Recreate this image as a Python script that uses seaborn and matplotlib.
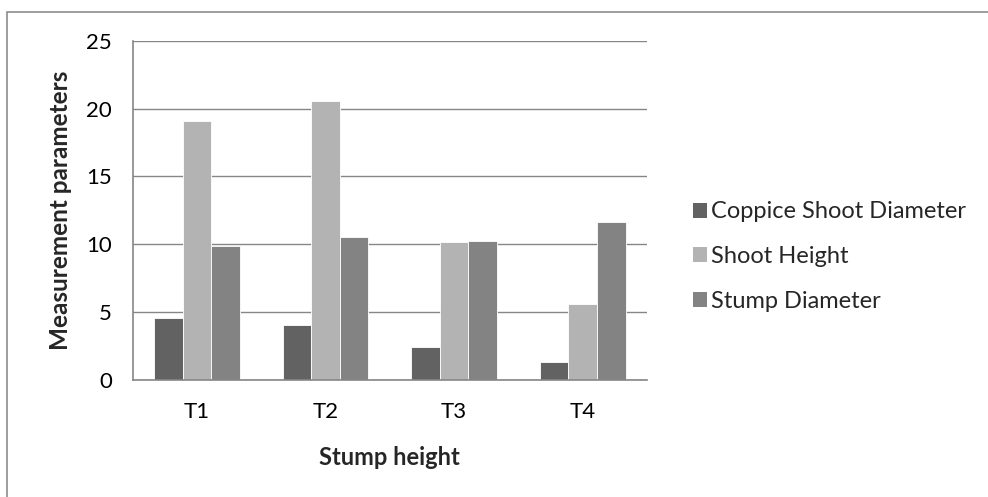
import matplotlib
matplotlib.use("Agg")
import matplotlib.pyplot as plt
import seaborn as sns
import pandas as pd
from matplotlib.patches import Rectangle, Patch

categories = ["T1", "T2", "T3", "T4"]
series_names = ["Coppice Shoot Diameter", "Shoot Height", "Stump Diameter"]
coppice_shoot_diameter = [4.57, 4.05, 2.46, 1.35]
shoot_height = [19.07, 20.54, 10.17, 5.58]
stump_diameter = [9.85, 10.57, 10.27, 11.65]
colors = ["#626262", "#b3b3b3", "#838383"]
yticks = [0, 5, 10, 15, 20, 25]

rows = []
for name, vals in zip(series_names, [coppice_shoot_diameter, shoot_height, stump_diameter]):
    for c, v in zip(categories, vals):
        rows.append({"Stump height": c, "Series": name, "Value": v})
df = pd.DataFrame(rows)

sns.set_theme(style="white")
plt.rcParams["font.family"] = ["Lato", "DejaVu Sans"]

fig = plt.figure(figsize=(9.88, 4.97), dpi=100)
ax = fig.add_axes([0.1343, 0.2354, 0.5206, 0.6827])

sns.barplot(data=df, x="Stump height", y="Value", hue="Series", palette=colors,
            width=0.667, ax=ax, legend=False, saturation=1, edgecolor="white", linewidth=0.6)

grid_c = "#868686"
ax.set_ylim(0, 25)
ax.set_xlim(-0.5, 3.5)
ax.set_yticks(yticks)
ax.yaxis.grid(True, color=grid_c, linewidth=1.0)
ax.set_axisbelow(True)
for s in ["top", "right"]:
    ax.spines[s].set_visible(False)
for s in ["left", "bottom"]:
    ax.spines[s].set_color(grid_c)
    ax.spines[s].set_linewidth(1.2)

ax.set_xticks([0, 1, 2, 3])
ax.set_xticklabels(categories)
ax.set_xticks([-0.5, 0.5, 1.5, 2.5, 3.5], minor=True)
ax.tick_params(axis="x", which="major", length=0, pad=16, labelsize=16, colors="black")
ax.tick_params(axis="x", which="minor", length=6, width=1.2, color=grid_c, direction="out")
ax.tick_params(axis="y", which="major", length=6, width=1.2, color=grid_c, direction="out",
               pad=9, labelsize=16, labelcolor="black")
ax.tick_params(axis="x", labelcolor="black")

ax.set_xlabel("Stump height", fontsize=17, fontweight="bold", labelpad=17)
ax.set_ylabel("Measurement parameters", fontsize=17.5, fontweight="bold", labelpad=10)

handles = [Patch(facecolor=c, edgecolor="none") for c in colors]
leg = fig.legend(handles, series_names, loc="center left", bbox_to_anchor=(0.689, 0.484),
                 frameon=False, fontsize=17, handlelength=0.6, handleheight=0.6,
                 handletextpad=0.2, labelspacing=1.0, borderpad=0)

border = Rectangle((7 / 988, -0.05), 1.1, 1 - 12 / 497 + 0.05, transform=fig.transFigure,
                   fill=False, edgecolor="#8c8c8c", linewidth=1.2, clip_on=False)
fig.patches.append(border)

fig.savefig("out.png", dpi=100)
